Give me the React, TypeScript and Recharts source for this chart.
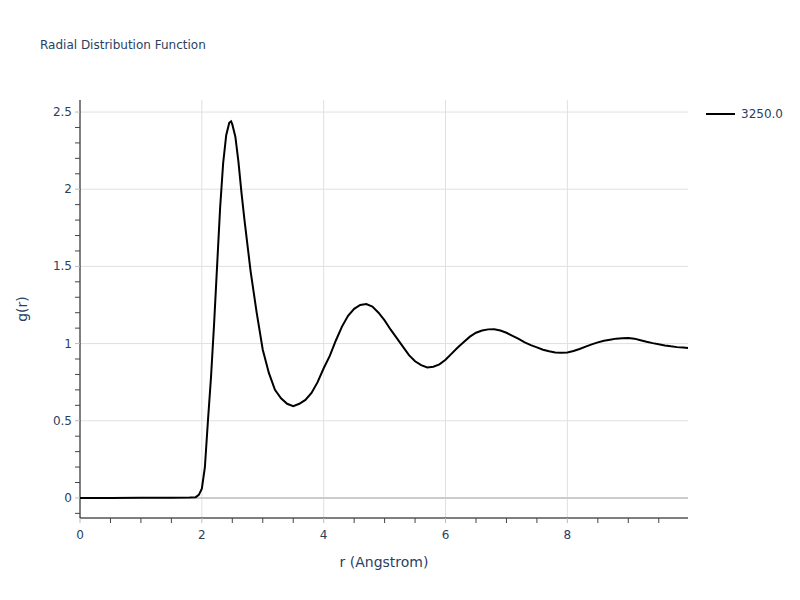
import { LineChart, Line, XAxis, YAxis, ReferenceLine } from "recharts";

// r (Angstrom) sample points and g(r)
const rValues = [
  0, 0.5, 1.0, 1.5, 1.8, 1.9, 1.95, 2.0, 2.05, 2.1, 2.15, 2.2, 2.25, 2.3, 2.35,
  2.4, 2.45, 2.48, 2.5, 2.55, 2.6, 2.65, 2.7, 2.8, 2.9, 3.0, 3.1, 3.2, 3.3, 3.4,
  3.5, 3.6, 3.7, 3.8, 3.9, 4.0, 4.1, 4.2, 4.3, 4.4, 4.5, 4.6, 4.7, 4.8, 4.9, 5.0,
  5.1, 5.2, 5.3, 5.4, 5.5, 5.6, 5.7, 5.8, 5.9, 6.0, 6.1, 6.2, 6.3, 6.4, 6.5, 6.6,
  6.7, 6.8, 6.9, 7.0, 7.1, 7.2, 7.3, 7.4, 7.5, 7.6, 7.7, 7.8, 7.9, 8.0, 8.1, 8.2,
  8.3, 8.4, 8.5, 8.6, 8.7, 8.8, 8.9, 9.0, 9.1, 9.2, 9.3, 9.4, 9.5, 9.6, 9.7, 9.8,
  9.9, 9.98,
];
const gValues = [
  0, 0, 0.001, 0.002, 0.003, 0.005, 0.02, 0.06, 0.2, 0.5, 0.78, 1.12, 1.5, 1.88,
  2.17, 2.35, 2.43, 2.44, 2.42, 2.34, 2.18, 1.98, 1.8, 1.47, 1.2, 0.96, 0.81,
  0.7, 0.645, 0.61, 0.595, 0.61, 0.635, 0.68, 0.75, 0.84, 0.92, 1.02, 1.11, 1.18,
  1.225, 1.25, 1.256, 1.24, 1.2, 1.15, 1.09, 1.035, 0.98, 0.925, 0.885, 0.86,
  0.845, 0.85, 0.865, 0.895, 0.935, 0.975, 1.01, 1.045, 1.07, 1.085, 1.092,
  1.093, 1.085, 1.07, 1.05, 1.03, 1.008, 0.99, 0.975, 0.96, 0.95, 0.942, 0.94,
  0.942, 0.952, 0.965, 0.98, 0.995, 1.008, 1.018, 1.025, 1.032, 1.035, 1.036,
  1.032, 1.022, 1.012, 1.003, 0.995, 0.988, 0.982, 0.977, 0.974, 0.972,
];
const seriesName = "3250.0";

const xTicks = [
  0, 0.5, 1, 1.5, 2, 2.5, 3, 3.5, 4, 4.5, 5, 5.5, 6, 6.5, 7, 7.5, 8, 8.5, 9, 9.5,
];
const yTicks = [
  -0.1, 0, 0.1, 0.2, 0.3, 0.4, 0.5, 0.6, 0.7, 0.8, 0.9, 1, 1.1, 1.2, 1.3, 1.4,
  1.5, 1.6, 1.7, 1.8, 1.9, 2, 2.1, 2.2, 2.3, 2.4, 2.5,
];
const xGrid = [2, 4, 6, 8];
const yGrid = [0.5, 1, 1.5, 2, 2.5];

const data = rValues.map((r, i) => ({ r, g: gValues[i] }));

const FONT = '"DejaVu Sans", Verdana, sans-serif';
const TEXT = "#2a3f5f";

const isMultiple = (v: number, step: number) =>
  Math.abs(v / step - Math.round(v / step)) < 1e-6;

const XTick = (props: any) => {
  const { x, y, payload } = props;
  const major = isMultiple(payload.value, 2);
  return (
    <g>
      <line x1={x} x2={x} y1={y} y2={y + 5} stroke={major ? "#bbb" : "#444"} />
      {major && (
        <text x={x} y={y + 21} textAnchor="middle" fill={TEXT} fontSize={12} fontFamily={FONT}>
          {payload.value}
        </text>
      )}
    </g>
  );
};

const YTick = (props: any) => {
  const { x, y, payload } = props;
  const major = isMultiple(payload.value, 0.5);
  return (
    <g>
      <line x1={x} x2={x - 5} y1={y} y2={y} stroke={major ? "#bbb" : "#444"} />
      {major && (
        <text x={x - 8} y={y + 4} textAnchor="end" fill={TEXT} fontSize={12} fontFamily={FONT}>
          {Math.round(payload.value * 10) / 10}
        </text>
      )}
    </g>
  );
};

export default function App() {
  return (
    <div style={{ position: "absolute", left: 0, top: 0, width: 800, height: 600, background: "#fff" }}>
      <div style={{ position: "absolute", left: 40, top: 38, fontFamily: FONT, fontSize: 12, color: TEXT }}>
        Radial Distribution Function
      </div>
      <div
        style={{
          position: "absolute",
          left: 384,
          top: 554,
          transform: "translateX(-50%)",
          fontFamily: FONT,
          fontSize: 14,
          color: TEXT,
          whiteSpace: "nowrap",
        }}
      >
        r (Angstrom)
      </div>
      <div
        style={{
          position: "absolute",
          left: 22,
          top: 309,
          transform: "translate(-50%, -50%) rotate(-90deg)",
          fontFamily: FONT,
          fontSize: 14,
          color: TEXT,
          whiteSpace: "nowrap",
        }}
      >
        g(r)
      </div>
      <div
        style={{
          position: "absolute",
          left: 706,
          top: 106,
          display: "flex",
          alignItems: "center",
          fontFamily: FONT,
          fontSize: 12,
          color: TEXT,
        }}
      >
        <svg width={30} height={16}>
          <line x1={0} x2={29} y1={8} y2={8} stroke="#000" strokeWidth={2} />
        </svg>
        <span style={{ marginLeft: 5 }}>{seriesName}</span>
      </div>
      <LineChart width={800} height={600} data={data} margin={{ top: 100, right: 112, bottom: 52, left: 30 }}>
        {yGrid.map((v) => (
          <ReferenceLine key={"y" + v} y={v} stroke="#e0e0e0" strokeWidth={1} />
        ))}
        {xGrid.map((v) => (
          <ReferenceLine key={"x" + v} x={v} stroke="#e0e0e0" strokeWidth={1} />
        ))}
        <ReferenceLine y={0} stroke="#cccccc" strokeWidth={2} />
        <XAxis
          dataKey="r"
          type="number"
          domain={[0, 9.97]}
          ticks={xTicks}
          interval={0}
          tickSize={0}
          tickMargin={0}
          tickLine={false}
          tick={<XTick />}
          axisLine={{ stroke: "#000", strokeWidth: 1 }}
          height={30}
        />
        <YAxis
          type="number"
          domain={[-0.13, 2.578]}
          ticks={yTicks}
          interval={0}
          tickSize={0}
          tickMargin={0}
          tickLine={false}
          tick={<YTick />}
          axisLine={{ stroke: "#000", strokeWidth: 1 }}
          width={50}
        />
        <Line
          type="linear"
          dataKey="g"
          name={seriesName}
          stroke="#000"
          strokeWidth={2}
          dot={false}
          isAnimationActive={false}
        />
      </LineChart>
    </div>
  );
}
